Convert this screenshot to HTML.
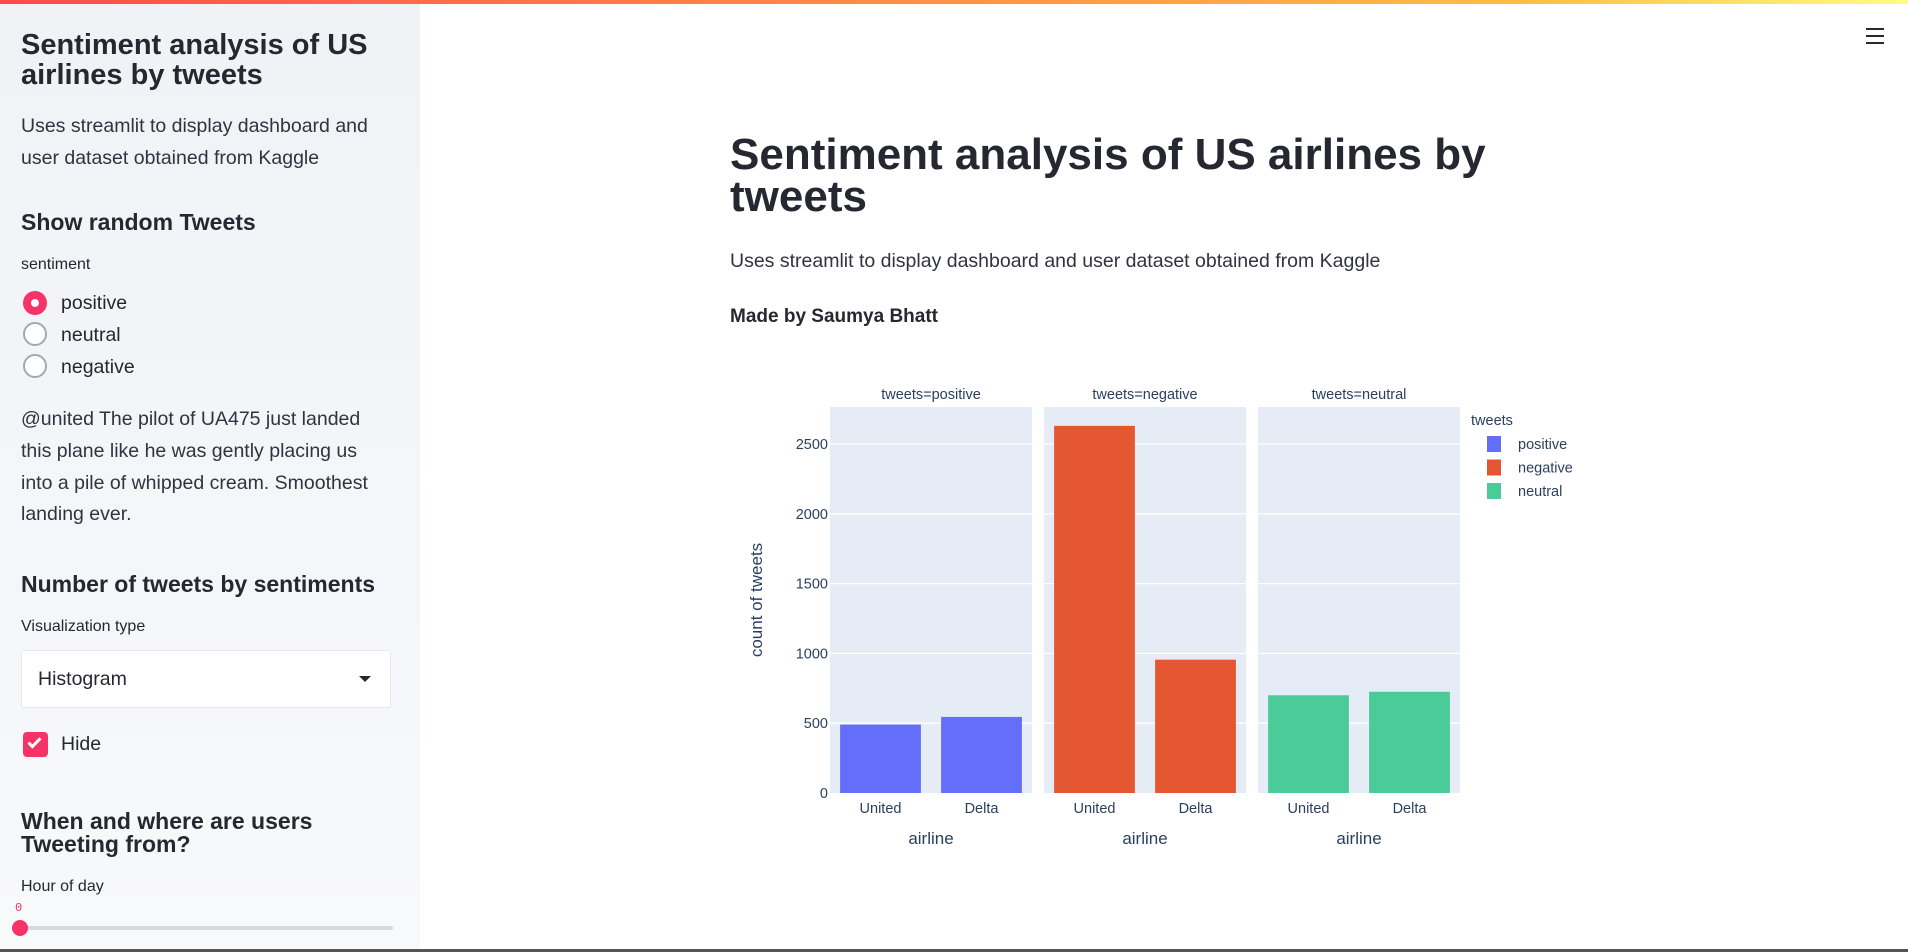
<!DOCTYPE html>
<html><head><meta charset="utf-8"><style>
*{margin:0;padding:0;box-sizing:border-box}
body{width:1908px;height:952px;overflow:hidden;background:#fff;font-family:"Liberation Sans",sans-serif;color:#262730;position:relative}
.abs{position:absolute;white-space:nowrap}
#topbar{position:absolute;left:0;top:0;width:1908px;height:4px;background:linear-gradient(90deg,#ff4b4b,#ffbd45 80%,#fffd80)}
#sidebar{position:absolute;left:0;top:4px;width:420px;height:946px;background:linear-gradient(180deg,#f0f2f6,#f8f9fb)}
.radio{position:absolute;left:23px;width:24px;height:24px;border-radius:50%;border:2px solid #a3a8b4;background:#fff}
.radio.on{border:none;background:#f63366}
.radio.on::after{content:"";position:absolute;left:8px;top:8px;width:8px;height:8px;border-radius:50%;background:#fff}
#bottomline{position:absolute;left:0;top:949px;width:1908px;height:3px;background:#555}
</style></head><body>
<div id="topbar"></div>
<div id="sidebar">
 <div class="abs" style="left:21px;top:26px;font-size:29px;font-weight:bold;line-height:30px;white-space:normal;width:370px">Sentiment analysis of US airlines by tweets</div>
 <div class="abs" style="left:21px;top:106px;font-size:19.5px;line-height:32px;white-space:normal;width:380px;color:#31333f">Uses streamlit to display dashboard and user dataset obtained from Kaggle</div>
 <div class="abs" style="left:21px;top:205px;font-size:23px;font-weight:bold">Show random Tweets</div>
 <div class="abs" style="left:21px;top:252px;font-size:16px">sentiment</div>
 <div class="radio on" style="top:287px"></div>
 <div class="abs" style="left:61px;top:288px;font-size:19.5px">positive</div>
 <div class="radio" style="top:318px"></div>
 <div class="abs" style="left:61px;top:320px;font-size:19.5px">neutral</div>
 <div class="radio" style="top:350px"></div>
 <div class="abs" style="left:61px;top:352px;font-size:19.5px">negative</div>
 <div class="abs" style="left:21px;top:400px;font-size:19.5px;line-height:31.8px;color:#31333f">@united The pilot of UA475 just landed<br>this plane like he was gently placing us<br>into a pile of whipped cream. Smoothest<br>landing ever.</div>
 <div class="abs" style="left:21px;top:567px;font-size:23px;font-weight:bold">Number of tweets by sentiments</div>
 <div class="abs" style="left:21px;top:614px;font-size:16px">Visualization type</div>
 <div class="abs" style="left:21px;top:646px;width:370px;height:58px;background:#fff;border:1px solid #e6e8ee;border-radius:3px">
  <span class="abs" style="left:16px;top:17px;font-size:19.5px">Histogram</span>
  <span class="abs" style="left:337px;top:25px;width:0;height:0;border-left:6px solid transparent;border-right:6px solid transparent;border-top:6px solid #262730"></span>
 </div>
 <div class="abs" style="left:23px;top:728px;width:25px;height:25px;background:#f63366;border-radius:4px">
  <span class="abs" style="left:8px;top:3px;width:7px;height:13px;border-right:3px solid #fff;border-bottom:3px solid #fff;transform:rotate(45deg)"></span>
 </div>
 <div class="abs" style="left:61px;top:729px;font-size:19.5px">Hide</div>
 <div class="abs" style="left:21px;top:806px;font-size:23px;font-weight:bold;line-height:23px;white-space:normal;width:340px">When and where are users Tweeting from?</div>
 <div class="abs" style="left:21px;top:874px;font-size:16px">Hour of day</div>
 <div class="abs" style="left:15px;top:897px;font-size:12px;color:#f63366;font-family:'Liberation Mono',monospace">0</div>
 <div class="abs" style="left:21px;top:922px;width:372px;height:4px;background:#d5d8df;border-radius:2px"></div>
 <div class="abs" style="left:12px;top:916px;width:16px;height:16px;border-radius:50%;background:#f63366"></div>
</div>
<div class="abs" style="left:1866px;top:28px;width:18px;height:16px">
 <div style="height:2px;background:#262730;margin-bottom:5px"></div><div style="height:2px;background:#262730;margin-bottom:5px"></div><div style="height:2px;background:#262730"></div>
</div>
<div class="abs" style="left:730px;top:134px;font-size:44px;font-weight:bold;line-height:42px;white-space:normal;width:800px">Sentiment analysis of US airlines by tweets</div>
<div class="abs" style="left:730px;top:250px;font-size:19.5px;color:#31333f">Uses streamlit to display dashboard and user dataset obtained from Kaggle</div>
<div class="abs" style="left:730px;top:306px;font-size:19px;font-weight:bold">Made by Saumya Bhatt</div>
<svg id="chart" class="abs" style="left:0;top:0" width="1908" height="952"></svg>
<div id="bottomline"></div>
<script>
const facets=["positive","negative","neutral"];
const airlines=["United","Delta"];
const positiveValues=[490,545];
const negativeValues=[2630,955];
const neutralValues=[700,725];
const yTicks=[0,500,1000,1500,2000,2500];
const colors=["#636efa","#ef553b","#00cc96"];
const barColors=["#636efa","#e45731","#4bcb98"];
const series=[positiveValues,negativeValues,neutralValues];
const NS="http://www.w3.org/2000/svg";
const svg=document.getElementById('chart');
const panelX=[830,1044,1258], panelW=202, panelTop=407, zeroY=793;
function yScale(v){return zeroY-(v/2500)*(zeroY-444);}
function mk(tag,attrs,parent){const e=document.createElementNS(NS,tag);for(const k in attrs)e.setAttribute(k,attrs[k]);(parent||svg).appendChild(e);return e;}
function txt(s,attrs){const t=mk('text',Object.assign({'font-family':'Liberation Sans, sans-serif','font-size':14.5,fill:'#2a3f5f'},attrs));t.textContent=s;return t;}
facets.forEach((f,i)=>{
 const x0=panelX[i];
 const bg=mk('rect',{x:x0,y:panelTop,width:panelW,height:zeroY-panelTop,fill:'#e5ecf6'});
 
 
 yTicks.forEach(t=>{if(t>0){const l=mk('line',{x1:x0,x2:x0+panelW,y1:yScale(t),y2:yScale(t),stroke:'#fff','stroke-width':1.3});}});
 const st=txt('tweets='+f,{x:x0+panelW/2,y:panelTop-8,'text-anchor':'middle'});
 
 
 const bw=panelW/airlines.length;
 airlines.forEach((a,j)=>{
  const v=series[i][j];
  const r=mk('rect',{x:x0+bw*j+bw*0.1,y:yScale(v),width:bw*0.8,height:zeroY-yScale(v),fill:barColors[i]});
  
  
  const tl=txt(a,{x:x0+bw*j+bw/2,y:zeroY+20,'text-anchor':'middle'});
  
  
 });
 const xt=txt('airline',{x:x0+panelW/2,y:zeroY+51,'text-anchor':'middle','font-size':17});
 
 
});
yTicks.forEach(t=>{const l=txt(String(t),{x:828,y:yScale(t)+5,'text-anchor':'end'});});
const yt=txt('count of tweets',{x:762,y:600,'text-anchor':'middle','font-size':17,transform:'rotate(-90 762 600)'});


const lt=txt('tweets',{x:1471,y:425});


facets.forEach((f,i)=>{
 const ly=444+i*23.5;
 const s=mk('rect',{x:1487,y:ly-8,width:14,height:16,fill:barColors[i]});
 
 
 const t=txt(f,{x:1518,y:ly+5});
 
 
});
</script>
</body></html>
